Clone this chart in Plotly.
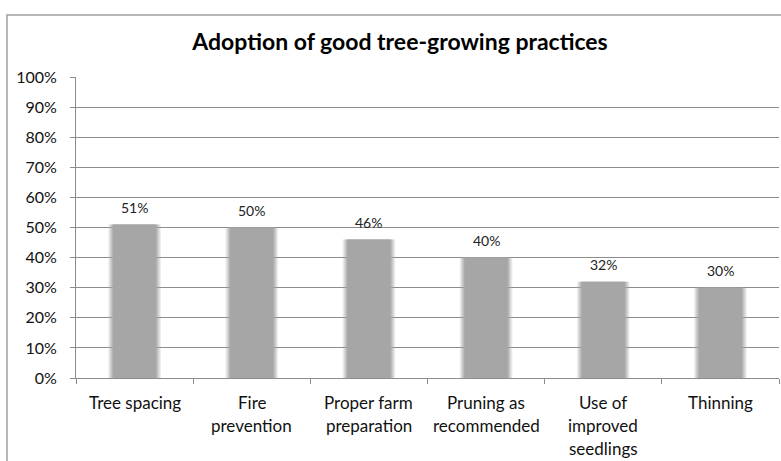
import plotly.graph_objects as go

# Survey results: share of farmers adopting each practice
categories = ["Tree spacing", "Fire\nprevention", "Proper farm\npreparation",
              "Pruning as\nrecommended", "Use of\nimproved\nseedlings", "Thinning"]
values = [51, 50, 46, 40, 32, 30]
y_ticks = list(range(0, 101, 10))

W, H = 781, 461
L, R, T, B = 76, 2, 77, 83
FONT = "Lato"
GRID = "#8c8c8c"
BAR = "#a6a6a6"

fig = go.Figure()

# soft-edged bars: a few faint wider layers under a solid core
for w, op in [(0.45, 0.18), (0.43, 0.25), (0.41, 0.35), (0.39, 0.5)]:
    fig.add_trace(go.Bar(x=categories, y=values, width=w, marker=dict(color=BAR, line_width=0),
                         opacity=op, hoverinfo="skip", showlegend=False))
fig.add_trace(go.Bar(x=categories, y=values, width=0.37, marker=dict(color=BAR, line_width=0),
                     showlegend=False))

annotations = []
# value labels above bars
for c, v in zip(categories, values):
    annotations.append(dict(x=c, y=v, text=f"{v}%", showarrow=False, yshift=17,
                            font=dict(family=FONT, size=14, color="#222"), yanchor="middle"))
# category labels, one annotation per line
for c in categories:
    for i, line in enumerate(c.split("\n")):
        annotations.append(dict(x=c, y=0, text=line, showarrow=False, yshift=-24 - 23 * i,
                                font=dict(family=FONT, size=17, color="#111"), yanchor="middle"))

fig.update_layout(
    width=W, height=H,
    margin=dict(l=L, r=R, t=T, b=B),
    plot_bgcolor="white", paper_bgcolor="white",
    barmode="overlay",
    title=dict(text="<b>Adoption of good tree-growing practices</b>", xref="container", yref="container",
               x=400 / W, xanchor="center", y=1 - 42 / H, yanchor="middle",
               font=dict(family=FONT, size=23, color="#000")),
    xaxis=dict(type="category", showticklabels=False, ticks="outside", ticklen=5, tickcolor=GRID,
               tickson="boundaries", showline=True, linecolor=GRID, linewidth=1, showgrid=False,
               range=[-0.5, len(categories) - 0.5], fixedrange=True),
    yaxis=dict(range=[0, 100], tickvals=y_ticks, ticktext=[f"{t}%" for t in y_ticks],
               ticks="outside", ticklen=5, tickcolor=GRID, showline=True, linecolor=GRID, linewidth=1,
               showgrid=True, gridcolor=GRID, gridwidth=1, zeroline=False, ticklabelstandoff=10,
               tickfont=dict(family=FONT, size=16, color="#111"), fixedrange=True),
    annotations=annotations,
    shapes=[dict(type="rect", xref="paper", yref="paper",
                 x0=(7 - L) / (W - L - R), x1=(W + 20 - L) / (W - L - R),
                 y0=-(H + 20 - (H - B)) / (H - T - B), y1=1 + (T - 15) / (H - T - B),
                 line=dict(color="#a0a0a0", width=1.5), fillcolor="rgba(0,0,0,0)", layer="below")],
)

fig.write_html("out.html")
